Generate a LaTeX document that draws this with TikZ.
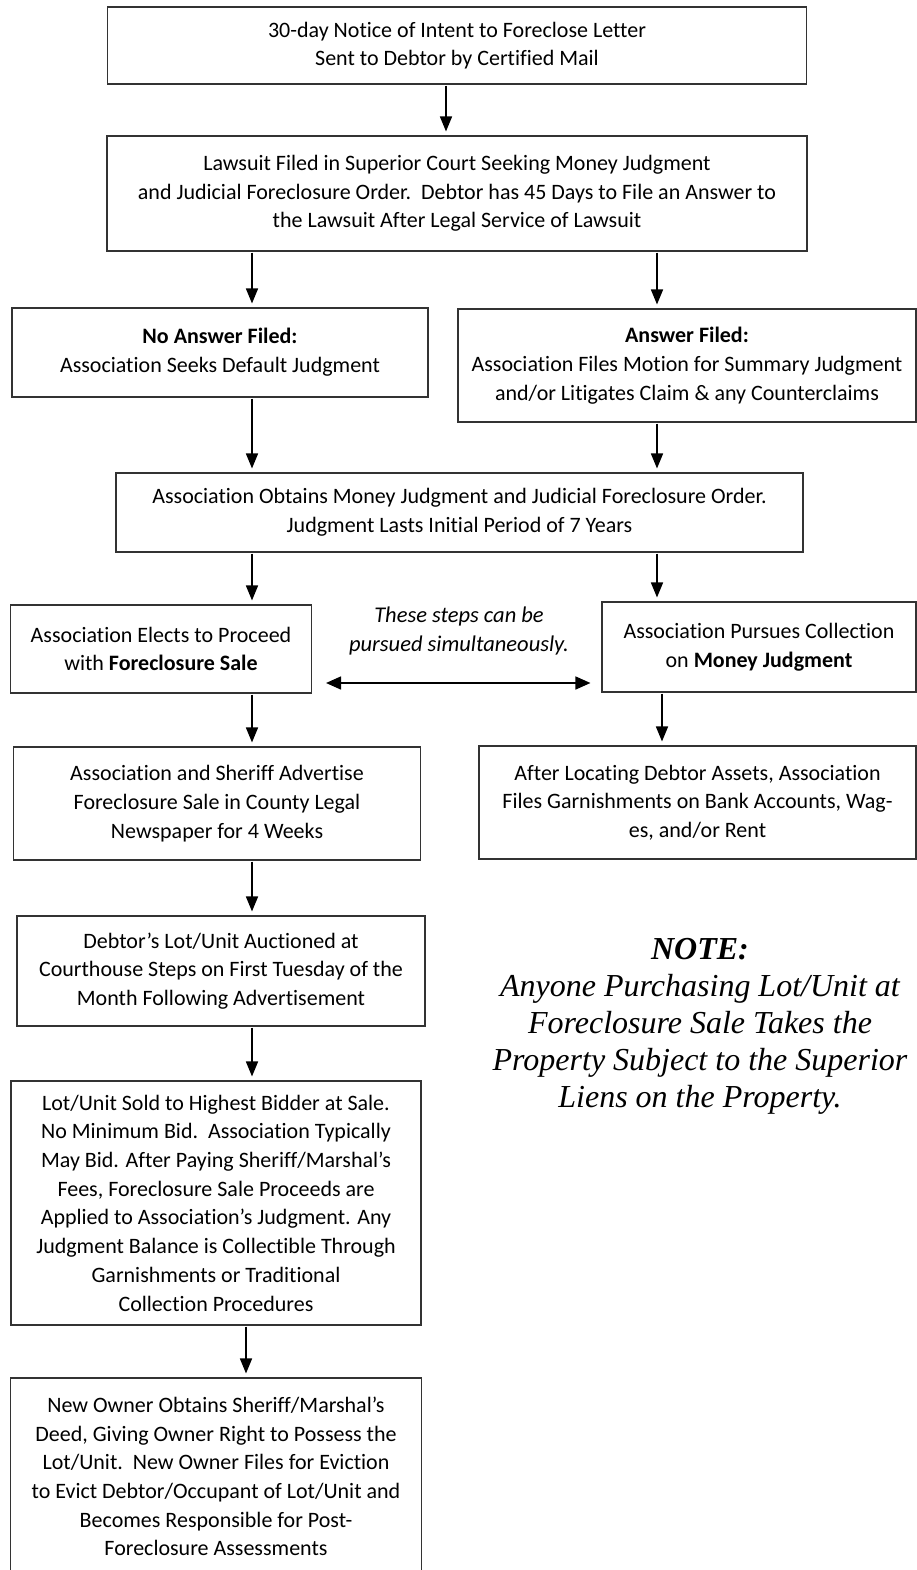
\documentclass[tikz,border=0pt]{standalone}
\usepackage{fontspec}
\setmainfont{Carlito}[Ligatures=NoCommon]
\newfontfamily\notefont{Liberation Serif}
\usetikzlibrary{arrows.meta}
\begin{document}
\begin{tikzpicture}[x=1pt,y=-1pt,
  stepbox/.style={draw=black!80,line width=1.1pt,rectangle,align=center,
    inner sep=0pt,font={\fontsize{22}{28.7}\selectfont}},
  arr/.style={line width=1.6pt,-{Triangle[length=15pt,width=12pt]},
    shorten >=4pt,shorten <=1pt},
  dblarr/.style={line width=1.6pt,{Triangle[length=15pt,width=13pt]}-{Triangle[length=15pt,width=13pt]}}]
 \useasboundingbox (0,0) rectangle (917,1570);

 \node[stepbox,minimum width=699pt,minimum height=77pt] (notice) at (457,45.5)
  {30-day Notice of Intent to Foreclose Letter\\Sent to Debtor by Certified Mail};
 \node[stepbox,minimum width=700pt,minimum height=115pt] (lawsuit) at (457,193.5)
  {Lawsuit Filed in Superior Court Seeking Money Judgment\\
   and Judicial Foreclosure Order.\ \ Debtor has 45 Days to File an Answer to\\
   the Lawsuit After Legal Service of Lawsuit};
 \node[stepbox,minimum width=416pt,minimum height=89pt] (noanswer) at (220,352.5)
  {\textbf{No Answer Filed:}\\Association Seeks Default Judgment};
 \node[stepbox,minimum width=458pt,minimum height=113pt] (answer) at (687,365.5)
  {\textbf{Answer Filed:}\\Association Files Motion for Summary Judgment\\
   and/or Litigates Claim \& any Counterclaims};
 \node[stepbox,minimum width=687pt,minimum height=79pt] (obtains) at (459.5,512.5)
  {Association Obtains Money Judgment and Judicial Foreclosure Order.\\
   Judgment Lasts Initial Period of 7 Years};
 \node[stepbox,minimum width=301pt,minimum height=88pt] (elects) at (161,649)
  {Association Elects to Proceed\\with \textbf{Foreclosure Sale}};
 \node[stepbox,minimum width=314pt,minimum height=90pt] (pursues) at (759,647)
  {Association Pursues Collection\\on \textbf{Money Judgment}};
 \node[align=center,font={\fontsize{22.5}{28.7}\selectfont\itshape}] (both) at (459,631)
  {These steps can be\\pursued simultaneously.};
 \node[stepbox,minimum width=407pt,minimum height=113pt] (advertise) at (217,803.5)
  {Association and Sheriff Advertise\\Foreclosure Sale in County Legal\\
   Newspaper for 4 Weeks};
 \node[stepbox,minimum width=437pt,minimum height=113pt] (garnish) at (697.5,802.5)
  {After Locating Debtor Assets, Association\\
   Files Garnishments on Bank Accounts, Wag-\\es, and/or Rent};
 \node[stepbox,minimum width=408pt,minimum height=110pt] (auction) at (221,971)
  {Debtor’s Lot/Unit Auctioned at\\Courthouse Steps on First Tuesday of the\\
   Month Following Advertisement};
 \node[stepbox,minimum width=410pt,minimum height=244pt] (sold) at (216,1203)
  {Lot/Unit Sold to Highest Bidder at Sale.\\
   No Minimum Bid.\ \ Association Typically\\
   May Bid. After Paying Sheriff/Marshal’s\\
   Fees, Foreclosure Sale Proceeds are\\
   Applied to Association’s Judgment. Any\\
   Judgment Balance is Collectible Through\\
   Garnishments or Traditional\\
   Collection Procedures};
 \node[stepbox,minimum width=411pt,minimum height=197pt] (owner) at (216,1476.5)
  {New Owner Obtains Sheriff/Marshal’s\\
   Deed, Giving Owner Right to Possess the\\
   Lot/Unit.\ \ New Owner Files for Eviction\\
   to Evict Debtor/Occupant of Lot/Unit and\\
   Becomes Responsible for Post-\\
   Foreclosure Assessments};
 \node[align=center,font={\notefont\fontsize{32}{37}\selectfont\itshape}] (note) at (700,1026)
  {\textbf{NOTE:}\\Anyone Purchasing Lot/Unit at\\Foreclosure Sale Takes the\\
   Property Subject to the Superior\\Liens on the Property.};

 % arrow columns
 \coordinate (c0) at (446,0);
 \coordinate (cl) at (252,0);
 \coordinate (cr) at (657,0);
 \coordinate (cg) at (662,0);
 \coordinate (cb) at (246,0);
 \coordinate (h) at (0,683);

 \draw[arr] (notice.south -| c0) -- (lawsuit.north -| c0);
 \draw[arr] (lawsuit.south -| cl) -- (noanswer.north -| cl);
 \draw[arr] (lawsuit.south -| cr) -- (answer.north -| cr);
 \draw[arr] (noanswer.south -| cl) -- (obtains.north -| cl);
 \draw[arr] (answer.south -| cr) -- (obtains.north -| cr);
 \draw[arr] (obtains.south -| cl) -- (elects.north -| cl);
 \draw[arr] (obtains.south -| cr) -- (pursues.north -| cr);
 \draw[dblarr,shorten <=14pt,shorten >=11pt] (elects.east |- h) -- (pursues.west |- h);
 \draw[arr] (elects.south -| cl) -- (advertise.north -| cl);
 \draw[arr] (pursues.south -| cg) -- (garnish.north -| cg);
 \draw[arr] (advertise.south -| cl) -- (auction.north -| cl);
 \draw[arr] (auction.south -| cl) -- (sold.north -| cl);
 \draw[arr] (sold.south -| cb) -- (owner.north -| cb);

\end{tikzpicture}
\end{document}
